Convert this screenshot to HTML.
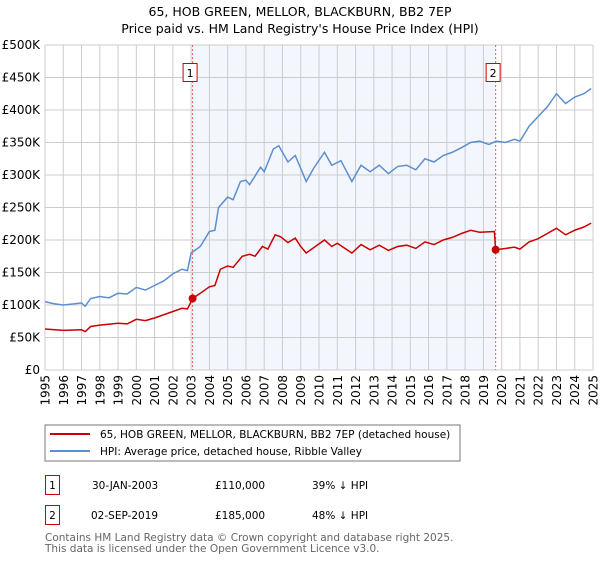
<!DOCTYPE html>
<html><head><meta charset="utf-8"><style>
body{margin:0;background:#fff;font-family:"DejaVu Sans","Liberation Sans",sans-serif;}
svg text{font-family:"DejaVu Sans","Liberation Sans",sans-serif;}
</style></head><body>
<svg id="chart" width="600" height="560" viewBox="0 0 600 560">
<text x="300" y="16" text-anchor="middle" font-size="12.5">65, HOB GREEN, MELLOR, BLACKBURN, BB2 7EP</text>
<text x="300" y="33" text-anchor="middle" font-size="12.5">Price paid vs. HM Land Registry's House Price Index (HPI)</text>
<g id="grid"></g>
<g id="marks"></g>
<g id="axes"></g>
<g>
<rect x="45" y="425" width="415" height="36" fill="#fff" stroke="#777"/>
<line x1="50" y1="434" x2="90" y2="434" stroke="#cc0000" stroke-width="2"/>
<text x="100" y="438" font-size="10.5">65, HOB GREEN, MELLOR, BLACKBURN, BB2 7EP (detached house)</text>
<line x1="50" y1="451" x2="90" y2="451" stroke="#5b8fd0" stroke-width="2"/>
<text x="100" y="455" font-size="10.5">HPI: Average price, detached house, Ribble Valley</text>
</g>
<g>
<rect x="45.5" y="475.5" width="14" height="19" fill="#fff" stroke="#cc0000"/>
<text x="52.5" y="489" font-size="10.5" text-anchor="middle">1</text>
<text x="92" y="489" font-size="10.5">30-JAN-2003</text>
<text x="215" y="489" font-size="10.5">£110,000</text>
<text x="312" y="489" font-size="10.5">39% ↓ HPI</text>
<rect x="45.5" y="505.5" width="14" height="19" fill="#fff" stroke="#cc0000"/>
<text x="52.5" y="519" font-size="10.5" text-anchor="middle">2</text>
<text x="91" y="519" font-size="10.5">02-SEP-2019</text>
<text x="215" y="519" font-size="10.5">£185,000</text>
<text x="312" y="519" font-size="10.5">48% ↓ HPI</text>
</g>
<text x="45" y="541" font-size="10.5" fill="#666">Contains HM Land Registry data © Crown copyright and database right 2025.</text>
<text x="45" y="552" font-size="10.5" fill="#666">This data is licensed under the Open Government Licence v3.0.</text>
</svg>
<script>
const yearTicks=[1995,1996,1997,1998,1999,2000,2001,2002,2003,2004,2005,2006,2007,2008,2009,2010,2011,2012,2013,2014,2015,2016,2017,2018,2019,2020,2021,2022,2023,2024,2025];
const valueTicks=[0,50,100,150,200,250,300,350,400,450,500];
const valueLabels=["£0","£50K","£100K","£150K","£200K","£250K","£300K","£350K","£400K","£450K","£500K"];
const hpiDates=[1995,1995.5,1996,1997,1997.2,1997.5,1998,1998.5,1999,1999.5,2000,2000.5,2001,2001.5,2002,2002.5,2002.8,2003,2003.5,2004,2004.3,2004.5,2005,2005.3,2005.7,2006,2006.2,2006.8,2007,2007.5,2007.8,2008.3,2008.7,2009,2009.3,2009.7,2010.3,2010.7,2011.2,2011.8,2012.3,2012.8,2013.3,2013.8,2014.3,2014.8,2015.3,2015.8,2016.3,2016.8,2017.3,2017.8,2018.3,2018.8,2019.3,2019.7,2020.2,2020.7,2021,2021.5,2022,2022.5,2023,2023.5,2024,2024.5,2024.9];
const hpiValues=[105,102,100,103,98,110,113,111,118,117,127,123,130,137,148,155,153,180,190,213,215,250,266,262,290,292,285,312,305,340,345,320,330,310,290,310,335,315,322,290,315,305,315,302,313,315,308,325,320,330,335,342,350,352,347,352,350,355,352,375,390,405,425,410,420,425,433];
const propDates=[1995,1996,1997,1997.2,1997.5,1998,1999,1999.5,2000,2000.5,2001,2001.5,2002,2002.5,2002.8,2003.08,2003.5,2004,2004.3,2004.6,2005,2005.3,2005.8,2006.2,2006.5,2006.9,2007.2,2007.6,2007.9,2008.3,2008.7,2009,2009.3,2009.8,2010.3,2010.7,2011,2011.8,2012.3,2012.8,2013.3,2013.8,2014.3,2014.8,2015.3,2015.8,2016.3,2016.8,2017.3,2017.8,2018.3,2018.8,2019.6,2019.67,2020.2,2020.7,2021,2021.5,2022,2022.5,2023,2023.5,2024,2024.5,2024.9];
const propValues=[63,61,62,59,67,69,72,71,78,76,80,85,90,95,94,110,118,128,130,155,160,158,175,178,175,190,186,208,205,196,203,190,180,190,200,190,195,180,193,185,192,184,190,192,187,197,193,200,204,210,215,212,213,185,187,189,186,197,202,210,218,208,215,220,226];
const saleDates=[2003.08,2019.67];
const saleValues=[110,185];
const saleLabels=["1","2"];
const NS="http://www.w3.org/2000/svg";
const X0=45,X1=593,Y0=370,Y1=45;
const xs=d=>X0+(d-1995)/30*(X1-X0);
const ys=v=>Y0-v/500*(Y0-Y1);
function mk(tag,attrs,parent){const e=document.createElementNS(NS,tag);for(const k in attrs)e.setAttribute(k,attrs[k]);parent.appendChild(e);return e;}
const grid=document.getElementById('grid'),marks=document.getElementById('marks'),axes=document.getElementById('axes');
const shade=mk('rect',{x:xs(saleDates[0]),y:Y1,width:xs(saleDates[1])-xs(saleDates[0]),height:Y0-Y1,fill:'#f3f6fd'},grid);


yearTicks.forEach(t=>{const l=mk('line',{x1:xs(t),x2:xs(t),y1:Y1,y2:Y0,stroke:'#ccc'},grid);


const tx=mk('text',{x:xs(t)+4.5,y:Y0+5,'font-size':12,'text-anchor':'end',transform:`rotate(-90 ${xs(t)+4.5} ${Y0+5})`},axes);tx.textContent=t;

});
valueTicks.forEach((v,i)=>{const l=mk('line',{x1:X0,x2:X1,y1:ys(v),y2:ys(v),stroke:'#ccc'},grid);


const tx=mk('text',{x:X0-5,y:ys(v)+4,'font-size':12,'text-anchor':'end'},axes);tx.textContent=valueLabels[i];

});
saleDates.forEach((d,i)=>{const l=mk('line',{x1:xs(d),x2:xs(d),y1:Y1,y2:Y0,stroke:'#e06060','stroke-dasharray':'2,2'},marks);

});
const hp=mk('polyline',{points:hpiDates.map((d,i)=>xs(d)+','+ys(hpiValues[i])).join(' '),fill:'none',stroke:'#5b8fd0','stroke-width':1.5},marks);


const pp=mk('polyline',{points:propDates.map((d,i)=>xs(d)+','+ys(propValues[i])).join(' '),fill:'none',stroke:'#cc0000','stroke-width':1.5},marks);


saleDates.forEach((d,i)=>{const c=mk('circle',{cx:xs(d),cy:ys(saleValues[i]),r:4,fill:'#cc0000'},marks);


const r=mk('rect',{x:xs(d)-9.5,y:63.5,width:14,height:18,fill:'#fff',stroke:'#cc0000'},marks);


const t=mk('text',{x:xs(d)-2.5,y:77,'font-size':11,'text-anchor':'middle'},marks);t.textContent=saleLabels[i];

});
</script>
</body></html>
